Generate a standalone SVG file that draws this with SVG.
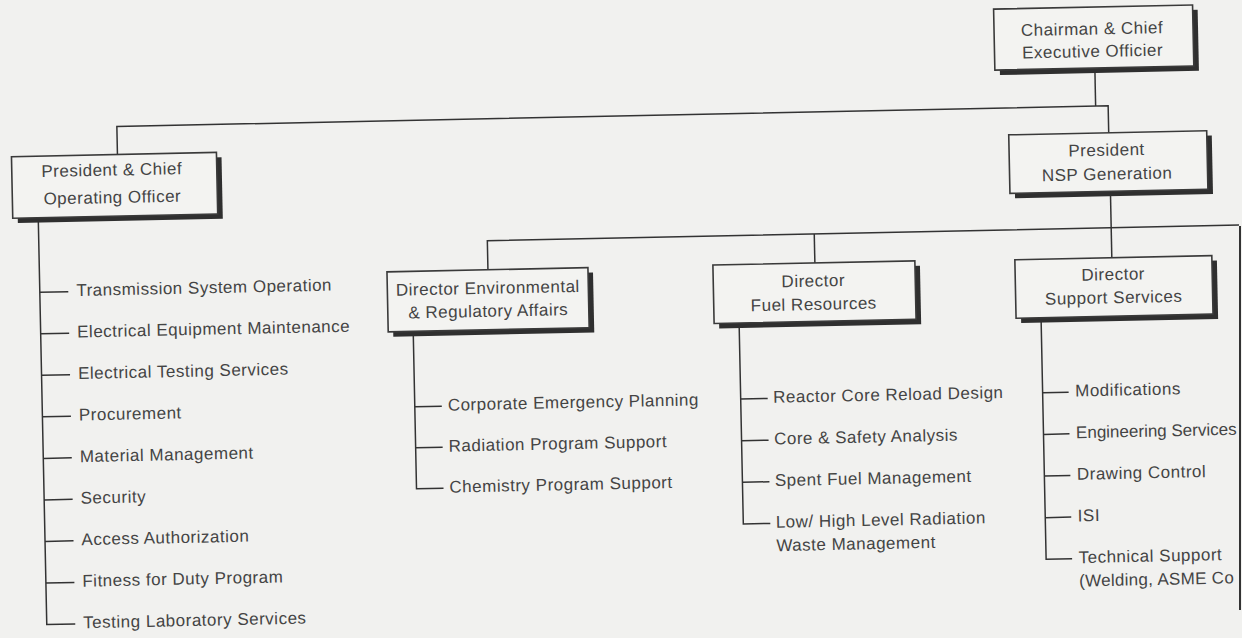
<svg xmlns="http://www.w3.org/2000/svg" width="1242" height="638" viewBox="0 0 1242 638">
<defs>
<style>
.bg{fill:#f1f1ef}
.sh{fill:#2f2f2f}
.bx{fill:#f3f3f1;stroke:#3a3a3a;stroke-width:1.6}
.ln{fill:none;stroke:#333;stroke-width:1.5}
.t{font-family:"Liberation Sans",Arial,Helvetica,sans-serif;font-size:17px;letter-spacing:0.5px;fill:#444}
.c{text-anchor:middle}
</style>
<clipPath id="page"><rect x="0" y="0" width="1239" height="638"/></clipPath>
</defs>
<rect class="bg" x="0" y="0" width="1242" height="638"/>
<g clip-path="url(#page)">
<g transform="rotate(-1.2 621 319)">
<g id="connectors">
<path class="ln" d="M1100 78 V116"/>
<path class="ln" d="M121 144 V116 H1112.5 V143"/>
<path class="ln" d="M1113 201.5 V268"/>
<path class="ln" d="M489 267 V238 H1270"/>
<path class="ln" d="M816 238 V267"/>
<path class="ln" d="M40.5 205.5 V612.4 H69 M40.5 280.1 H69 M40.5 321.6 H69 M40.5 363.2 H69 M40.5 404.7 H69 M40.5 446.3 H69 M40.5 487.8 H69 M40.5 529.3 H69 M40.5 570.9 H69"/>
<path class="ln" d="M413 327 V484.5 H440 M413 402.5 H440 M413 443.5 H440"/>
<path class="ln" d="M739 325.5 V526.5 H766 M739 401.5 H766 M739 443.2 H766 M739 484.8 H766"/>
<path class="ln" d="M1041 326.5 V568.2 H1067 M1041 401.5 H1067 M1041 443.2 H1067 M1041 484.8 H1067 M1041 526.5 H1067"/>
</g>
<g id="node-ceo">
<rect class="sh" x="1005" y="22" width="199" height="61"/>
<rect class="bx" x="1000" y="17" width="199" height="61"/>
<text class="t c" x="1098" y="44.5">Chairman &amp; Chief</text>
<text class="t c" x="1098" y="67">Executive Officier</text>
</g>
<g id="node-coo">
<rect class="sh" x="20" y="149" width="205" height="61.5"/>
<rect class="bx" x="15" y="144" width="205" height="61.5"/>
<text class="t c" x="115" y="165">President &amp; Chief</text>
<text class="t c" x="115" y="192.5">Operating Officer</text>
</g>
<g id="node-nsp">
<rect class="sh" x="1017.5" y="148" width="198" height="58.5"/>
<rect class="bx" x="1012.5" y="143" width="198" height="58.5"/>
<text class="t c" x="1110" y="166">President</text>
<text class="t c" x="1110" y="190">NSP Generation</text>
</g>
<g id="node-env">
<rect class="sh" x="393" y="272" width="201" height="60"/>
<rect class="bx" x="388" y="267" width="201" height="60"/>
<text class="t c" x="488.5" y="291">Director Environmental</text>
<text class="t c" x="488.5" y="314">&amp; Regulatory Affairs</text>
</g>
<g id="node-fuel">
<rect class="sh" x="719" y="272" width="202" height="58.5"/>
<rect class="bx" x="714" y="267" width="202" height="58.5"/>
<text class="t c" x="814" y="290.7">Director</text>
<text class="t c" x="814" y="314">Fuel Resources</text>
</g>
<g id="node-support">
<rect class="sh" x="1021" y="273" width="197" height="58.5"/>
<rect class="bx" x="1016" y="268" width="197" height="58.5"/>
<text class="t c" x="1114" y="290.3">Director</text>
<text class="t c" x="1114" y="313.6">Support Services</text>
</g>
<g id="list-coo">
<text class="t" x="77" y="284.6">Transmission System Operation</text>
<text class="t" x="77" y="326.1">Electrical Equipment Maintenance</text>
<text class="t" x="77" y="367.7">Electrical Testing Services</text>
<text class="t" x="77" y="409.2">Procurement</text>
<text class="t" x="77" y="450.8">Material Management</text>
<text class="t" x="77" y="492.3">Security</text>
<text class="t" x="77" y="533.8">Access Authorization</text>
<text class="t" x="77" y="575.4">Fitness for Duty Program</text>
<text class="t" x="77" y="616.9">Testing Laboratory Services</text>
</g>
<g id="list-env">
<text class="t" x="446" y="407">Corporate Emergency Planning</text>
<text class="t" x="446" y="448">Radiation Program Support</text>
<text class="t" x="446" y="489">Chemistry Program Support</text>
</g>
<g id="list-fuel">
<text class="t" x="771.5" y="406">Reactor Core Reload Design</text>
<text class="t" x="771.5" y="447.7">Core &amp; Safety Analysis</text>
<text class="t" x="771.5" y="489.3">Spent Fuel Management</text>
<text class="t" x="771.5" y="531">Low/ High  Level Radiation</text>
<text class="t" x="771.5" y="554.4">Waste Management</text>
</g>
<g id="list-support">
<text class="t" x="1073.5" y="406">Modifications</text>
<text class="t" x="1073.5" y="447.7" style="letter-spacing:0">Engineering Services</text>
<text class="t" x="1073.5" y="489.3">Drawing Control</text>
<text class="t" x="1073.5" y="531">ISI</text>
<text class="t" x="1073.5" y="572.7">Technical Support</text>
<text class="t" x="1073.5" y="596.1" style="letter-spacing:0.3px">(Welding, ASME Co</text>
</g>
</g>
</g>
<line class="ln" x1="1240" y1="226" x2="1240" y2="610" style="stroke-width:2"/>
</svg>
